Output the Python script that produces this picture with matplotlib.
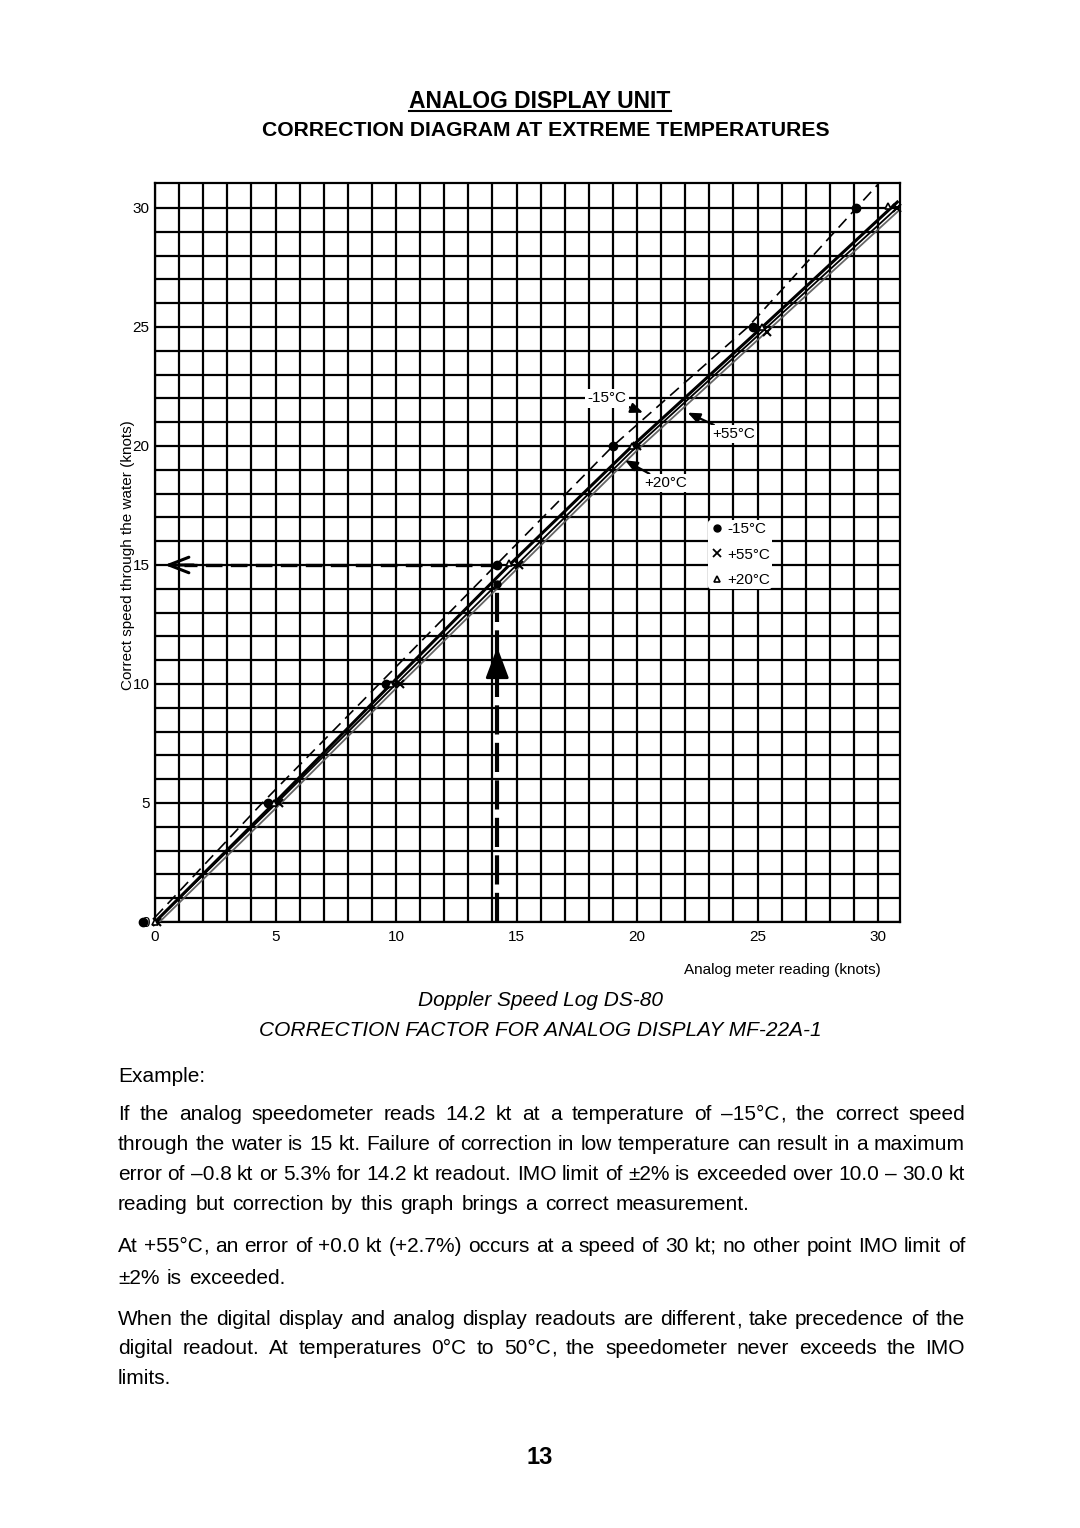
import matplotlib
matplotlib.use("Agg")
import matplotlib.pyplot as plt
from matplotlib.lines import Line2D
import matplotlib.patheffects as pe

plt.rcParams['font.family'] = ['Liberation Sans', 'DejaVu Sans']

# ---------------- data ----------------
# -15 degC readings (dots)
cold_reading = [-0.5, 4.7, 9.6, 14.2, 19.0, 24.8, 29.1]
cold_correct = [0, 5, 10, 15, 20, 25, 30]
# -15 degC correction curve (dashed)
cold_line_x = [0.0, 4.45, 9.3, 14.15, 19.0, 24.6, 30.0]
cold_line_y = [0.2, 5, 10, 15, 20, 25, 31.0]
# +55 degC readings (x marks)
hot_reading = [0.1, 5.15, 10.15, 15.1, 20.0, 25.4, 30.8]
hot_correct = [0, 5, 10, 15, 20, 24.8, 30]
hot_line_x = [0.0, 5.05, 10.0, 15.0, 20.0, 25.4, 31.0]
hot_line_y = [0, 5, 10, 15, 20, 25, 30.2]
# +20 degC readings (triangles)
warm_reading = [0.0, 4.95, 9.8, 14.7, 19.8, 25.2, 30.4]
warm_correct = [0, 5, 10, 15.1, 20, 25, 30.1]
warm_line_x = [0.0, 4.95, 9.8, 14.7, 19.8, 25.2, 30.8]
warm_line_y = [0, 5, 10, 15, 20, 25, 30.25]

# example
example_reading = 14.2
example_correct = 15.0

tick_values = [0, 5, 10, 15, 20, 25, 30]

title1 = "ANALOG DISPLAY UNIT"
title2 = "CORRECTION DIAGRAM AT EXTREME TEMPERATURES"
sub1 = "Doppler Speed Log DS-80"
sub2 = "CORRECTION FACTOR FOR ANALOG DISPLAY MF-22A-1"

paragraphs = [
    ["If the analog speedometer reads 14.2 kt at a temperature of \u201315\u00b0C, the correct speed",
     "through the water is 15 kt. Failure of correction in low temperature can result in a maximum",
     "error of \u20130.8 kt or 5.3% for 14.2 kt readout. IMO limit of \u00b12% is exceeded over 10.0 \u2013 30.0 kt",
     "reading but correction by this graph brings a correct measurement."],
    ["At +55\u00b0C, an error of +0.0 kt (+2.7%) occurs at a speed of 30 kt; no other point IMO limit of",
     "\u00b12% is exceeded."],
    ["When the digital display and analog display readouts are different, take precedence of the",
     "digital readout. At temperatures 0\u00b0C to 50\u00b0C, the speedometer never exceeds the IMO",
     "limits."],
]
para_y = [[1113, 1143, 1173, 1203], [1245, 1277], [1318, 1347, 1377]]

# ---------------- figure ----------------
W, H = 1080, 1528
fig = plt.figure(figsize=(W / 100, H / 100), dpi=100)
fig.patch.set_facecolor('white')

def fx(px):
    return px / W

def fy(py):
    return 1 - py / H

ax = fig.add_axes([fx(155), fy(922), 745 / W, 739 / H])
ax.set_xlim(0, 30.91)
ax.set_ylim(0, 31.05)

ax.set_xticks(range(0, 31))
ax.set_yticks(range(0, 31))
ax.set_xticklabels([str(v) if v in tick_values else '' for v in range(0, 31)], fontsize=11)
ax.set_yticklabels([str(v) if v in tick_values else '' for v in range(0, 31)], fontsize=11)
ax.tick_params(length=0, pad=6)
ax.tick_params(axis='y', pad=4)
ax.grid(True, color='black', linewidth=1.6)
ax.set_axisbelow(True)
for s in ax.spines.values():
    s.set_linewidth(1.6)
    s.set_color('black')

ax.set_ylabel("Correct speed through the water (knots)", fontsize=11)
ax.yaxis.set_label_coords(-0.036, 0.497)
ax.yaxis.label.set_va('center')
ax.set_xlabel("Analog meter reading (knots)", fontsize=11, ha='right')
ax.xaxis.set_label_coords(0.9745, -0.056)

# curves
ax.plot(cold_line_x, cold_line_y, color='black', lw=1.2, ls=(0, (7, 4)), zorder=3)
ax.plot(warm_line_x, warm_line_y, color='black', lw=2.2, zorder=3, clip_on=True)
ax.plot(hot_line_x, hot_line_y, color='black', lw=1.3, zorder=3,
        path_effects=[pe.SimpleLineShadow(offset=(1.6, -1.6), shadow_color='#555555', alpha=0.9),
                      pe.Normal()])

# markers
ax.plot(cold_reading, cold_correct, ls='', marker='o', ms=6, color='black', zorder=5, clip_on=False)
ax.plot(hot_reading, hot_correct, ls='', marker='x', ms=6, mew=1.5, color='black', zorder=5, clip_on=False)
ax.plot(warm_reading, warm_correct, ls='', marker='^', ms=5, mfc='white', mec='black', mew=1.2,
        zorder=5, clip_on=False)

# example arrows
ax.plot([example_reading, 1.2], [example_correct, example_correct], color='black', lw=2.4,
        ls=(0, (5, 2.5)), zorder=4)
ax.annotate('', xy=(0.4, example_correct), xytext=(1.6, example_correct),
            arrowprops=dict(arrowstyle='->,head_length=0.9,head_width=0.35', lw=2.2,
                            color='black', mutation_scale=16, shrinkA=0, shrinkB=0), zorder=4)
ax.plot([example_reading, example_reading], [0, example_reading], color='black', lw=3,
        ls=(0, (7, 2)), zorder=4)
ax.annotate('', xy=(example_reading, 11.55), xytext=(example_reading, 10.2),
            arrowprops=dict(arrowstyle='-|>,head_length=1.2,head_width=0.45', lw=2,
                            color='black', mutation_scale=16, shrinkA=0, shrinkB=0), zorder=4)
ax.plot([example_reading], [example_reading], marker='o', ms=5, color='black', zorder=5)

# curve labels
box = dict(facecolor='white', edgecolor='none', pad=1.5)
arw = dict(arrowstyle='-|>,head_length=0.6,head_width=0.25', lw=1.6, color='black',
           mutation_scale=12, shrinkA=0, shrinkB=0)
ax.annotate('-15\u00b0C', xy=(20.25, 21.4), xytext=(18.75, 22.0), fontsize=11, ha='center',
            va='center', bbox=box, arrowprops=arw, zorder=6)
ax.annotate('+55\u00b0C', xy=(22.1, 21.4), xytext=(24.0, 20.5), fontsize=11, ha='center',
            va='center', bbox=box, arrowprops=arw, zorder=6)
ax.annotate('+20\u00b0C', xy=(19.5, 19.4), xytext=(21.2, 18.45), fontsize=11, ha='center',
            va='center', bbox=box, arrowprops=arw, zorder=6)

# legend
handles = [Line2D([], [], ls='', marker='o', ms=5, color='black'),
           Line2D([], [], ls='', marker='x', ms=6, mew=1.3, color='black'),
           Line2D([], [], ls='', marker='^', ms=5, mfc='white', mec='black', mew=1.2)]
leg = ax.legend(handles, ['-15\u00b0C', '+55\u00b0C', '+20\u00b0C'], loc='upper left',
                bbox_to_anchor=(22.95, 16.9), bbox_transform=ax.transData, fontsize=11,
                frameon=True, handlelength=0.8, handletextpad=0.3, labelspacing=0.75,
                borderpad=0.15, borderaxespad=0)
leg.get_frame().set_facecolor('white')
leg.get_frame().set_edgecolor('none')
leg.get_frame().set_alpha(1)
leg.set_zorder(7)

# ---------------- texts ----------------
t1 = fig.text(0.5, fy(101), title1, ha='center', va='center', fontsize=16.5, fontweight='bold')
fig.text(0.505, fy(130), title2, ha='center', va='center', fontsize=15.2, fontweight='bold')
fig.text(0.5, fy(1000), sub1, ha='center', va='center', fontsize=15, style='italic')
fig.text(0.5, fy(1030), sub2, ha='center', va='center', fontsize=15, style='italic')
PFS = 15
fig.text(fx(118), fy(1075 + 7), "Example:", ha='left', va='baseline', fontsize=PFS)
fig.text(0.5, fy(1458), "13", ha='center', va='center', fontsize=17, fontweight='bold')

fig.canvas.draw()
renderer = fig.canvas.get_renderer()

# underline title
bb = t1.get_window_extent(renderer)
fig.add_artist(Line2D([bb.x0 / W, bb.x1 / W], [fy(111), fy(111)], color='black', lw=1.5))


def measure(s):
    t = fig.text(0, 0, s, fontsize=PFS)
    w = t.get_window_extent(renderer).width
    t.remove()
    return w

space_w = measure('a a') - measure('aa')


def split_pieces(word):
    # trailing comma drawn as its own piece
    if len(word) > 1 and word.endswith(','):
        return [word[:-1], ',']
    return [word]


# justified paragraphs
X0, X1 = 118, 965
for lines, ys in zip(paragraphs, para_y):
    for i, (line, y) in enumerate(zip(lines, ys)):
        words = line.split(' ')
        groups = []
        for w in words:
            parts = split_pieces(w)
            pieces = [fig.text(0, fy(y + 7), p, ha='left', va='baseline', fontsize=PFS)
                      for p in parts]
            full_w = measure(w)
            if len(parts) == 2:
                offs = [0, measure(parts[0]) + 0.5]
            else:
                offs = [0]
            groups.append((pieces, offs, full_w))
        widths = [g[2] for g in groups]
        last = (i == len(lines) - 1)
        if last or len(words) == 1:
            gap = space_w * 1.3
        else:
            gap = (X1 - X0 - sum(widths)) / (len(words) - 1)
        x = X0
        for pieces, offs, w in groups:
            for a, o in zip(pieces, offs):
                a.set_x((x + o) / W)
            x += w + gap

fig.savefig('out.png', dpi=100, facecolor='white')
